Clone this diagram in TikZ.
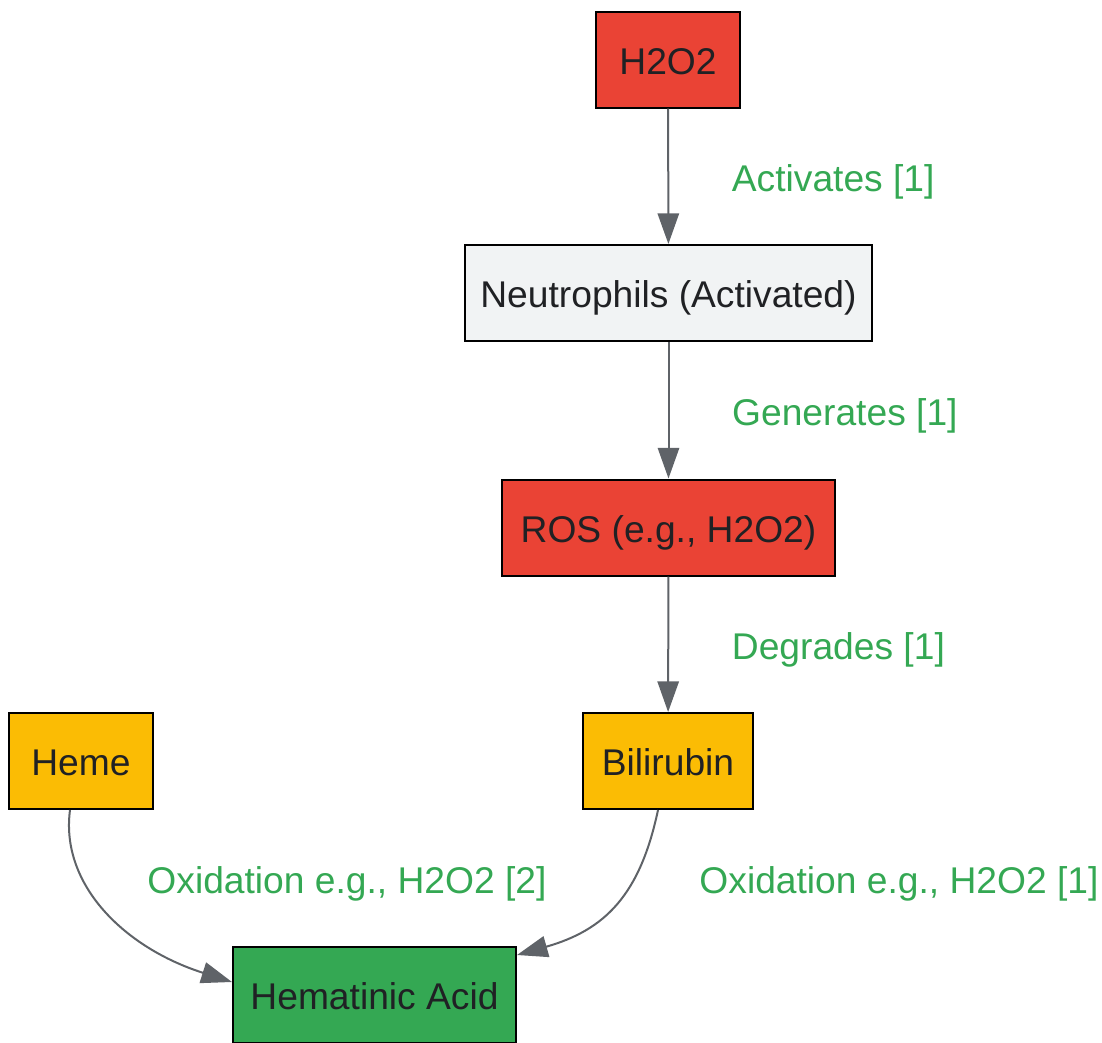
\documentclass[tikz,border=0pt]{standalone}
\usepackage{fontspec}
\setmainfont{Liberation Sans}
\usetikzlibrary{arrows.meta, positioning}
\definecolor{redbox}{HTML}{EA4335}
\definecolor{greybox}{HTML}{F1F3F4}
\definecolor{yellowbox}{HTML}{FBBC04}
\definecolor{greenbox}{HTML}{34A853}
\definecolor{edgegrey}{HTML}{5F6368}
\definecolor{inkdark}{HTML}{202124}
\tikzset{>={Triangle[length=23pt, width=16pt]}}

\begin{document}
\begin{tikzpicture}[x=0.75pt, y=-0.75pt,
    box/.style={draw=black, line width=1.5pt, inner sep=0pt, minimum height=72pt,
        text height=25.1pt, text depth=2.8pt, text=inkdark, font=\fontsize{27.9}{33}\selectfont},
    edge/.style={->, draw=edgegrey, line width=1.5pt},
    lbl/.style={text=greenbox, inner sep=0pt, text height=25.1pt, text depth=2.8pt,
        font=\fontsize{27.9}{33}\selectfont}]
    \useasboundingbox (0,0) rectangle (1102,1042);
    \node[box, fill=redbox, minimum width=108pt](h2o2) at (668,59.5){H2O2};
    \node[box, fill=greybox, minimum width=305.25pt](neutro) at (668.5,293){Neutrophils (Activated)};
    \node[box, fill=redbox, minimum width=249.75pt](ros) at (668.5,527.5){ROS (e.g., H2O2)};
    \node[box, fill=yellowbox, minimum width=108pt](heme) at (81,761){Heme};
    \node[box, fill=yellowbox, minimum width=127.5pt](bili) at (668,761){Bilirubin};
    \node[box, fill=greenbox, minimum width=212.25pt](hacid) at (374.5,995){Hematinic Acid};
    \foreach \a/\b/\t in {h2o2/neutro/Activates [1], neutro/ros/Generates [1], ros/bili/Degrades [1]}
    {
        \draw[edge](\a)--node[lbl, anchor=west, xshift=47pt]{\t}(\b);
    }
    \draw[edge](heme.south -| 70,0) .. controls (60,885) and (125,948) .. (hacid.west |- 0,982);
    \draw[edge](bili.south -| 658,0) .. controls (640,895) and (605,930) .. (hacid.north east |- 0,955);
    \node[lbl](lblheme) at (347,878.5){Oxidation e.g., H2O2 [2]};
    \node[lbl](lblbili) at (899,878.5){Oxidation e.g., H2O2 [1]};
\end{tikzpicture}
\end{document}
